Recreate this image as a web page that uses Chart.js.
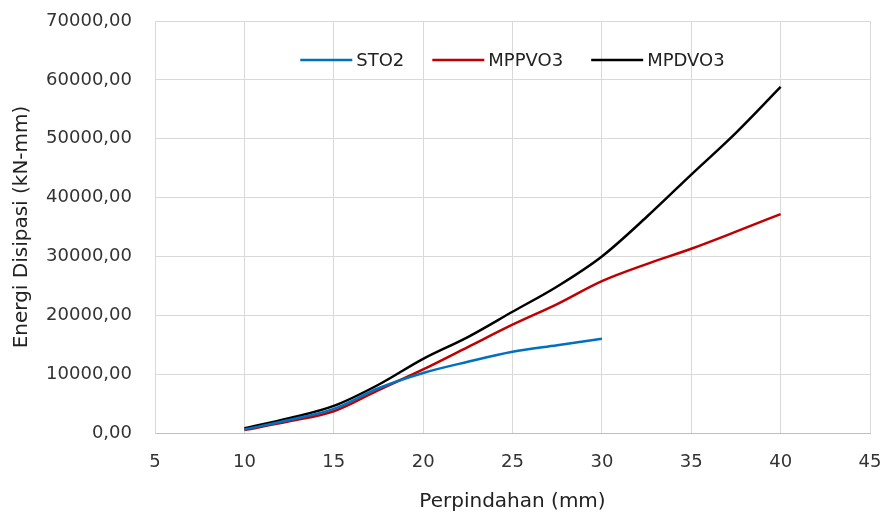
<!DOCTYPE html>
<html>
<head>
<meta charset="utf-8">
<script src="https://cdn.jsdelivr.net/npm/chart.js"></script>
<style>
  html, body { margin: 0; padding: 0; background: #fff; }
</style>
</head>
<body>
<canvas id="myChart" width="886" height="518"></canvas>
<script>
// displacement (mm) and dissipated energy (kN-mm)
const dispST02 = [10, 12.5, 15, 17.5, 20, 22.5, 25, 27.5, 30];
const energyST02 = [600, 2200, 4100, 7600, 10200, 12100, 13800, 14900, 16000];

const dispMP = [10, 12.5, 15, 17.5, 20, 22.5, 25, 27.5, 30, 32.5, 35, 37.5, 40];
const energyMPPVO3 = [500, 2000, 3700, 7300, 10800, 14600, 18400, 21900, 25800, 28700, 31300, 34200, 37200];
const energyMPDVO3 = [800, 2500, 4600, 8200, 12600, 16300, 20600, 24900, 30000, 36700, 43900, 51000, 58800];

const xTicks = [5, 10, 15, 20, 25, 30, 35, 40, 45];
const yTicks = [0, 10000, 20000, 30000, 40000, 50000, 60000, 70000];

const toPoints = (xs, ys) => xs.map((x, i) => ({x: x, y: ys[i]}));

const fontName = '"DejaVu Sans", sans-serif';

// legend drawn inside the plot area, centred near the top
const insideLegend = {
  id: 'insideLegend',
  afterDraw(chart) {
    const ctx = chart.ctx;
    const area = chart.chartArea;
    const lineLen = 52, gap = 4, itemGap = 28;
    ctx.save();
    ctx.font = '18px ' + fontName;
    const items = chart.data.datasets.map(ds => ({
      label: ds.label,
      color: ds.borderColor,
      textW: ctx.measureText(ds.label).width
    }));
    const total = items.reduce((s, it) => s + lineLen + gap + it.textW, 0) + itemGap * (items.length - 1);
    let x = (area.left + area.right) / 2 - total / 2;
    const y = area.top + 39;
    ctx.textBaseline = 'middle';
    ctx.textAlign = 'left';
    items.forEach(it => {
      ctx.strokeStyle = it.color;
      ctx.lineWidth = 2.5;
      ctx.beginPath();
      ctx.moveTo(x, y);
      ctx.lineTo(x + lineLen, y);
      ctx.stroke();
      ctx.fillStyle = '#222';
      ctx.fillText(it.label, x + lineLen + gap, y + 1);
      x += lineLen + gap + it.textW + itemGap;
    });
    ctx.restore();
  }
};

new Chart(document.getElementById('myChart'), {
  type: 'line',
  data: {
    datasets: [{
      label: 'STO2',
      data: toPoints(dispST02, energyST02),
      borderColor: '#0070C0',
      borderWidth: 2.5,
      pointRadius: 0,
      cubicInterpolationMode: 'monotone'
    }, {
      label: 'MPPVO3',
      data: toPoints(dispMP, energyMPPVO3),
      borderColor: '#C00000',
      borderWidth: 2.5,
      pointRadius: 0,
      cubicInterpolationMode: 'monotone'
    }, {
      label: 'MPDVO3',
      data: toPoints(dispMP, energyMPDVO3),
      borderColor: '#000000',
      borderWidth: 2.5,
      pointRadius: 0,
      cubicInterpolationMode: 'monotone'
    }]
  },
  options: {
    responsive: false,
    animation: false,
    layout: {
      padding: {top: 21, right: 16, left: 0, bottom: 0}
    },
    plugins: {
      legend: {display: false},
      tooltip: {enabled: false}
    },
    scales: {
      x: {
        type: 'linear',
        min: xTicks[0],
        max: xTicks[xTicks.length - 1],
        afterBuildTicks: scale => { scale.ticks = xTicks.map(v => ({value: v})); },
        afterFit: scale => {
          scale.height = 85;
          scale.paddingLeft = 0;
          scale.paddingRight = 0;
        },
        grid: {color: '#d9d9d9', drawTicks: false},
        border: {color: '#bfbfbf'},
        ticks: {
          padding: 19,
          color: '#333',
          font: {family: fontName, size: 18}
        },
        title: {
          display: true,
          text: 'Perpindahan (mm)',
          color: '#222',
          font: {family: fontName, size: 20},
          padding: {top: 0, bottom: 4}
        }
      },
      y: {
        min: yTicks[0],
        max: yTicks[yTicks.length - 1],
        afterBuildTicks: scale => { scale.ticks = yTicks.map(v => ({value: v})); },
        afterFit: scale => {
          scale.width = 155;
          scale.paddingTop = 0;
          scale.paddingBottom = 0;
        },
        grid: {color: '#d9d9d9', drawTicks: false},
        border: {color: '#d9d9d9'},
        ticks: {
          padding: 23,
          color: '#333',
          font: {family: fontName, size: 18},
          callback: v => v.toFixed(2).replace('.', ',')
        },
        title: {
          display: true,
          text: 'Energi Disipasi (kN-mm)',
          color: '#222',
          font: {family: fontName, size: 20},
          padding: {top: 10, bottom: 0}
        }
      }
    }
  },
  plugins: [insideLegend]
});
</script>
</body>
</html>
